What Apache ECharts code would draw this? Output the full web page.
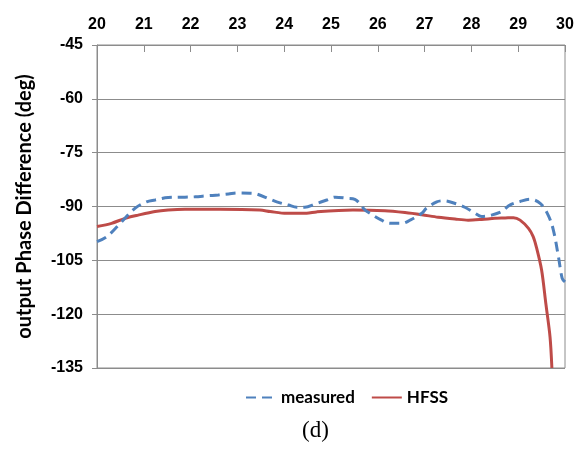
<!DOCTYPE html>
<html>
<head>
<meta charset="utf-8">
<script src="https://cdn.jsdelivr.net/npm/echarts@6/dist/echarts.min.js"></script>
<style>
  html, body { margin: 0; padding: 0; background: #fff; }
  #chart { width: 584px; height: 453px; }
</style>
</head>
<body>
<div id="chart"></div>
<script>
// Frequency ticks (GHz) shown along the top axis
const freqTicks = [20, 21, 22, 23, 24, 25, 26, 27, 28, 29, 30];

// Measured phase difference: frequency (GHz) and value (deg)
const measuredFreq = [20.0, 20.21, 20.46, 20.81, 21.06, 21.24, 21.52, 21.88, 22.09, 22.37, 22.59, 22.81, 22.99, 23.27, 23.41, 23.70, 23.84, 24.09, 24.27, 24.44, 24.66, 24.91, 25.09, 25.34, 25.51, 25.73, 25.83, 26.08, 26.26, 26.51, 26.69, 26.94, 27.04, 27.26, 27.40, 27.69, 27.86, 28.08, 28.22, 28.43, 28.65, 28.82, 29.04, 29.25, 29.47, 29.64, 29.75, 29.86, 29.94, 30.0];
const measuredDeg  = [-99.8, -98.4, -95.2, -90.5, -88.7, -88.2, -87.5, -87.4, -87.3, -87.0, -86.8, -86.5, -86.2, -86.3, -86.5, -88.0, -88.7, -89.6, -90.2, -90.2, -89.3, -88.2, -87.4, -87.7, -88.0, -91.0, -91.9, -93.8, -94.7, -94.7, -93.8, -91.9, -90.5, -88.7, -88.4, -89.3, -90.2, -91.9, -92.8, -92.4, -91.4, -89.6, -88.6, -88.0, -89.1, -92.4, -96.5, -104.0, -110.0, -111.0];

// HFSS simulated phase difference
const hfssFreq = [20.0, 20.31, 20.6, 20.88, 21.24, 21.52, 21.88, 22.63, 23.48, 23.70, 24.05, 24.48, 24.69, 25.47, 26.15, 26.58, 26.94, 27.29, 27.65, 27.93, 28.22, 28.50, 28.72, 28.90, 29.04, 29.22, 29.32, 29.39, 29.50, 29.59, 29.68, 29.72];
const hfssDeg  = [-95.6, -94.7, -93.3, -92.4, -91.4, -91.0, -90.8, -90.8, -91.0, -91.4, -91.9, -91.9, -91.5, -91.0, -91.2, -91.7, -92.3, -93.0, -93.5, -93.8, -93.6, -93.3, -93.2, -93.1, -93.8, -96.1, -98.4, -101.4, -107.7, -117.0, -126.3, -135.0];

const pairs = (xs, ys) => xs.map((x, i) => [x, ys[i]]);

const chart = echarts.init(document.getElementById('chart'), null, { renderer: 'canvas' });

const gridGray = '#8c8c8c';

chart.setOption({
  animation: false,
  backgroundColor: '#fff',
  grid: {
    left: 97, right: 19, top: 45, bottom: 85,
    show: true, borderColor: gridGray, borderWidth: 1
  },
  xAxis: {
    type: 'value',
    position: 'top',
    min: freqTicks[0],
    max: freqTicks[freqTicks.length - 1],
    interval: 1,
    axisLine: { show: true, lineStyle: { color: gridGray, width: 1 } },
    axisTick: { show: true, inside: true, length: 7, lineStyle: { color: gridGray } },
    splitLine: { show: false },
    axisLabel: {
      color: '#000', fontFamily: 'Liberation Sans', fontWeight: 'bold', fontSize: 16, margin: 12
    }
  },
  yAxis: {
    type: 'value',
    min: -135, max: -45, interval: 15,
    name: 'output Phase Difference (deg)',
    nameLocation: 'middle',
    nameGap: 62,
    nameTextStyle: { color: '#000', fontFamily: 'Lato', fontWeight: 'bold', fontSize: 20 },
    axisLine: { show: true, lineStyle: { color: gridGray, width: 1 } },
    axisTick: { show: true, length: 5, lineStyle: { color: gridGray } },
    splitLine: { show: true, lineStyle: { color: gridGray, width: 1 } },
    axisLabel: {
      color: '#000', fontFamily: 'Liberation Sans', fontWeight: 'bold', fontSize: 16, margin: 14
    }
  },
  legend: {
    bottom: 42,
    left: 240,
    itemWidth: 30,
    itemHeight: 12,
    itemGap: 16,
    itemStyle: { opacity: 0 },
    textStyle: { color: '#000', fontFamily: 'Lato', fontWeight: 'bold', fontSize: 17 },
    data: ['measured', 'HFSS']
  },
  series: [
    {
      name: 'measured',
      type: 'line',
      data: pairs(measuredFreq, measuredDeg),
      smooth: 0.35,
      showSymbol: false,
      symbol: 'none',
      lineStyle: { color: '#4f81bd', width: 3, type: [10, 6] },
      itemStyle: { color: '#4f81bd' },
      z: 3
    },
    {
      name: 'HFSS',
      type: 'line',
      data: pairs(hfssFreq, hfssDeg),
      smooth: 0.3,
      showSymbol: false,
      symbol: 'none',
      lineStyle: { color: '#be4b48', width: 3 },
      itemStyle: { color: '#be4b48' },
      z: 2
    }
  ],
  graphic: [
    {
      type: 'text',
      left: 302,
      top: 419,
      style: { text: '(d)', fill: '#000', font: '23px "Liberation Serif"' }
    }
  ]
});
</script>
</body>
</html>
